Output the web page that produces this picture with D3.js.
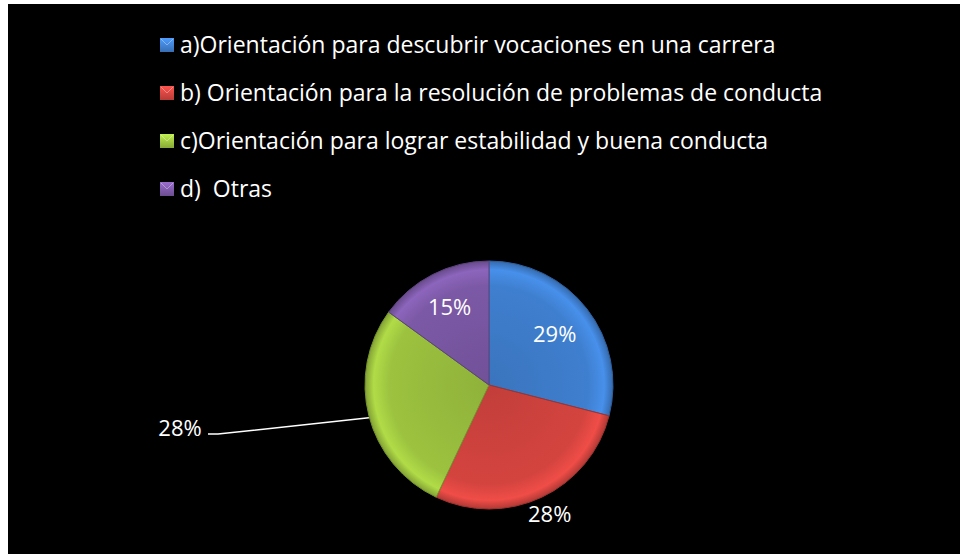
<!DOCTYPE html>
<html>
<head>
<meta charset="utf-8">
<script src="https://cdn.jsdelivr.net/npm/d3@7"></script>
<style>
  body { margin: 0; background: #fff; }
  svg { display: block; }
  text { font-family: "Open Sans", "Noto Sans", sans-serif; fill: #fff; white-space: pre; }
</style>
</head>
<body>
<svg id="chart" width="960" height="554"></svg>
<script>
// data
var categories = [
  'a)Orientación para descubrir vocaciones en una carrera',
  'b) Orientación para la resolución de problemas de conducta',
  'c)Orientación para lograr estabilidad y buena conducta',
  'd)  Otras'
];
var values = [29, 28, 28, 15];
var labels = ['29%', '28%', '28%', '15%'];
var colors = ['#3f7fcf', '#d4443f', '#9cc23f', '#7c59a6'];

var svg = d3.select('#chart');

// black plot area
svg.append('rect')
  .attr('x', 8).attr('y', 4)
  .attr('width', 952).attr('height', 550)
  .attr('fill', '#000');

var defs = svg.append('defs');

// gradients for a bit of the bevel look
colors.forEach(function(c, i) {
  var g = defs.append('radialGradient')
    .attr('id', 'grad' + i)
    .attr('gradientUnits', 'userSpaceOnUse')
    .attr('cx', 0).attr('cy', 0).attr('r', 124);
  g.append('stop').attr('offset', '0%').attr('stop-color', d3.color(c).darker(0.25));
  g.append('stop').attr('offset', '80%').attr('stop-color', c);
  g.append('stop').attr('offset', '93%').attr('stop-color', d3.color(c).brighter(0.35));
  g.append('stop').attr('offset', '100%').attr('stop-color', d3.color(c).darker(0.5));

  var lg = defs.append('linearGradient')
    .attr('id', 'lgrad' + i)
    .attr('x1', 0).attr('y1', 0).attr('x2', 0).attr('y2', 1);
  lg.append('stop').attr('offset', '0%').attr('stop-color', d3.color(c).brighter(0.6));
  lg.append('stop').attr('offset', '100%').attr('stop-color', d3.color(c).darker(0.4));
});

// legend
var legend = svg.append('g')
  .attr('transform', 'translate(160, 45)');

var item = legend.selectAll('g')
  .data(categories)
  .enter().append('g')
  .attr('transform', function(d, i) { return 'translate(0,' + i * 48 + ')'; });

item.append('rect')
  .attr('x', 0).attr('y', -7)
  .attr('width', 14).attr('height', 14)
  .attr('fill', function(d, i) { return 'url(#lgrad' + i + ')'; });

item.append('path')
  .attr('d', 'M1,-6 L7,0 L13,-6')
  .attr('fill', 'none')
  .attr('stroke', 'rgba(255,255,255,0.35)')
  .attr('stroke-width', 1);

item.append('text')
  .attr('x', 20)
  .attr('dy', '0.35em')
  .style('font-size', '23px')
  .text(function(d) { return d; });

// pie
var cx = 489, cy = 385, radius = 124;

var pie = d3.pie().sort(null).value(function(d) { return d; });
var arc = d3.arc().innerRadius(0).outerRadius(radius);

var arcs = pie(values);

var g = svg.append('g')
  .attr('transform', 'translate(' + cx + ',' + cy + ')');

g.selectAll('path.slice')
  .data(arcs)
  .enter().append('path')
  .attr('class', 'slice')
  .attr('d', arc)
  .attr('fill', function(d, i) { return 'url(#grad' + i + ')'; })
  .attr('stroke', function(d, i) { return d3.color(colors[i]).darker(0.8); })
  .attr('stroke-width', 1);

// label distance as ratio of radius, green one sits at the end of a leader line
var labelR = [0.67, 1.15, null, 0.70];
g.selectAll('text.lbl')
  .data(arcs)
  .enter().append('text')
  .attr('class', 'lbl')
  .attr('text-anchor', 'middle')
  .attr('dy', '0.35em')
  .style('font-size', '22px')
  .attr('transform', function(d, i) {
    if (i === 2) return 'translate(' + (-309) + ',' + 43 + ')';
    var a = (d.startAngle + d.endAngle) / 2;
    var r = radius * labelR[i];
    return 'translate(' + (Math.sin(a) * r) + ',' + (-Math.cos(a) * r) + ')';
  })
  .text(function(d, i) { return labels[i]; });

// leader line for green slice
var ga = arcs[2];
var mid = (ga.startAngle + ga.endAngle) / 2;
var edge = [Math.sin(mid) * radius, -Math.cos(mid) * radius + 2];
g.append('path')
  .attr('d', 'M' + edge[0] + ',' + edge[1] + ' L' + (-271) + ',' + 49 + ' L' + (-281) + ',' + 49)
  .attr('fill', 'none')
  .attr('stroke', '#fff')
  .attr('stroke-width', 1.5);
</script>
</body>
</html>
